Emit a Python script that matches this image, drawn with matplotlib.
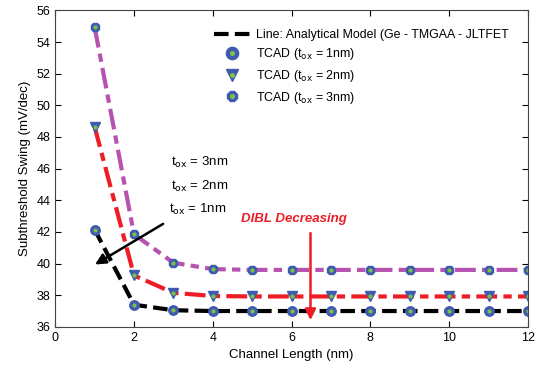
import numpy as np
import matplotlib.pyplot as plt
from matplotlib.legend_handler import HandlerTuple

plt.rcParams['font.family'] = ['Liberation Sans', 'DejaVu Sans']

# channel length (nm)
L = [1, 2, 3, 4, 5, 6, 7, 8, 9, 10, 11, 12]

# subthreshold swing (mV/dec)
ss_tox3 = [54.95, 41.85, 40.05, 39.65, 39.6, 39.6, 39.6, 39.6, 39.6, 39.6, 39.6, 39.6]
ss_tox2 = [48.65, 39.25, 38.15, 37.95, 37.92, 37.92, 37.92, 37.92, 37.92, 37.92, 37.92, 37.92]
ss_tox1 = [42.15, 37.4, 37.05, 37.0, 37.0, 37.0, 37.0, 37.0, 37.0, 37.0, 37.0, 37.0]

blue = '#3e5bb0'
green = '#7dc242'

fig = plt.figure(figsize=(5.36, 3.71), dpi=100)
ax = fig.add_axes([0.103, 0.119, 0.882, 0.853])

ax.plot(L, ss_tox3, color='#b653b0', lw=3, ls=(0, (5, 1.5, 2, 1.5)))
ax.plot(L, ss_tox2, color='#ee1c24', lw=3, ls=(0, (5, 1.5, 2, 1.5)))
line, = ax.plot(L, ss_tox1, color='black', lw=3, ls=(0, (3.5, 1.5)))

m1, = ax.plot(L, ss_tox1, ls='none', marker='o', ms=6.8, mfc=blue, mec=blue)
m2, = ax.plot(L, ss_tox2, ls='none', marker='v', ms=7, mfc=blue, mec=blue)
m3, = ax.plot(L, ss_tox3, ls='none', marker='8', ms=6.5, mfc=blue, mec=blue)
g = []
for ss in (ss_tox1, ss_tox2, ss_tox3):
    d, = ax.plot(L, ss, ls='none', marker='o', ms=2, mfc=green, mec=green)
    g.append(d)

ax.legend([line, (m1, g[0]), (m2, g[1]), (m3, g[2])],
          ['Line: Analytical Model (Ge - TMGAA - JLTFET',
           r'TCAD (t$_{\mathrm{ox}}$ = 1nm)',
           r'TCAD (t$_{\mathrm{ox}}$ = 2nm)',
           r'TCAD (t$_{\mathrm{ox}}$ = 3nm)'],
          handler_map={tuple: HandlerTuple(ndivide=1, pad=0)},
          loc='upper right', bbox_to_anchor=(0.975, 0.965), frameon=False,
          fontsize=8.9, handlelength=3.0, handletextpad=0.4, markerscale=1.3,
          labelspacing=0.45, borderaxespad=0.2)

ax.text(2.93, 46.4, r't$_{\mathrm{ox}}$ = 3nm', fontsize=9.5, va='center')
ax.text(2.93, 44.9, r't$_{\mathrm{ox}}$ = 2nm', fontsize=9.5, va='center')
ax.text(2.88, 43.4, r't$_{\mathrm{ox}}$ = 1nm', fontsize=9.5, va='center')
ax.annotate('', xy=(0.95, 39.85), xytext=(2.8, 42.6),
            arrowprops=dict(arrowstyle='-|>', color='black', lw=1.8,
                            mutation_scale=16))

ax.text(6.05, 42.8, 'DIBL Decreasing', color='#ee1c24', fontsize=9.5,
        fontweight='bold', fontstyle='italic', ha='center', va='center')
ax.annotate('', xy=(6.48, 36.25), xytext=(6.48, 42.1),
            arrowprops=dict(arrowstyle='-|>', color='#ee1c24', lw=1.8,
                            mutation_scale=16))

ax.set_xlim(0, 12)
ax.set_ylim(36, 56)
ax.set_xticks(range(0, 13, 2))
ax.set_yticks(range(36, 57, 2))
ax.tick_params(direction='in', top=True, right=True, labelsize=9, length=4)
ax.set_xlabel('Channel Length (nm)', fontsize=9.5)
ax.set_ylabel('Subthreshold Swing (mV/dec)', fontsize=9.5)
for s in ax.spines.values():
    s.set_color('#444444')

fig.savefig('out.png', dpi=100)
